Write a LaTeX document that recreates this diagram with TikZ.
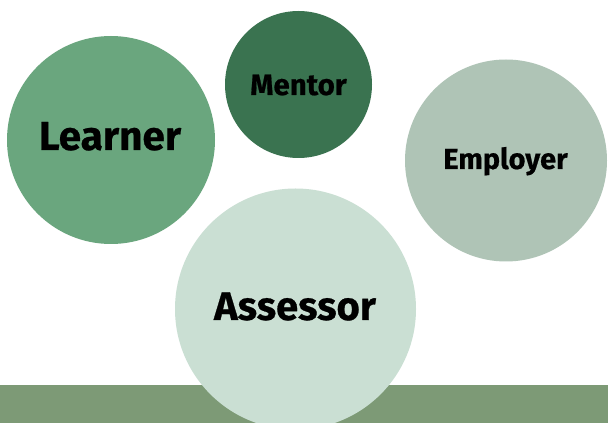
\documentclass[tikz,border=0pt]{standalone}
\usepackage{fontspec}
\setmainfont{Fira Sans}[BoldFeatures={FakeBold=0.6}]
\definecolor{learnerC}{HTML}{6AA67E}
\definecolor{mentorC}{HTML}{3A7350}
\definecolor{employerC}{HTML}{AFC4B6}
\definecolor{assessorC}{HTML}{CADFD3}
\definecolor{barC}{HTML}{7D9A76}
\tikzset{
  bubble/.style={circle, inner sep=0pt, draw=none},
  lbl/.style={inner sep=0pt, text=black, anchor=base, font=\bfseries}
}
\begin{document}
\begin{tikzpicture}[x=1pt,y=1pt]
\useasboundingbox (0,0) rectangle (608,423);
\fill[white] (0,0) rectangle (608,423);
\fill[barC] (0,0) rectangle (608,38);
\node[bubble, fill=learnerC, minimum size=208pt] (learner) at (111,283) {};
\node[bubble, fill=mentorC, minimum size=147pt] (mentor) at (298.5,338.5) {};
\node[bubble, fill=employerC, minimum size=202pt] (employer) at (506,262.5) {};
\node[bubble, fill=assessorC, minimum size=241pt] (assessor) at (295.5,114) {};
\node[lbl, font=\bfseries\fontsize{40.5}{40}\selectfont] (tlearner) at (110,273) {Learner};
\node[lbl, font=\bfseries\fontsize{29.5}{29}\selectfont] (tmentor) at (298.5,328) {Mentor};
\node[lbl, font=\bfseries\fontsize{29}{28}\selectfont] (temployer) at (505.5,254) {Employer};
\node[lbl, font=\bfseries\fontsize{40}{38}\selectfont] (tassessor) at (295,103) {Assessor};
\end{tikzpicture}
\end{document}
